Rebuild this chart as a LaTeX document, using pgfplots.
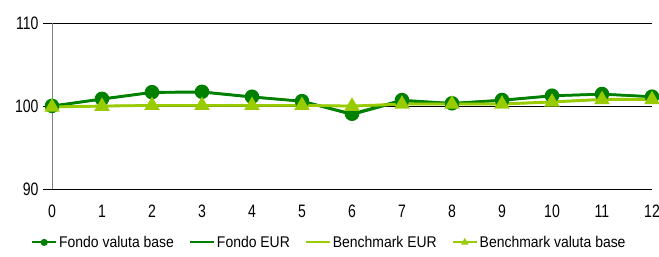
\documentclass[border=0pt]{standalone}
\usepackage{fontspec}
\setmainfont{Liberation Sans}[FakeStretch=0.9]
\newfontfamily\tickfont{Liberation Sans}[FakeStretch=0.78]
\usepackage{pgfplots}
\pgfplotsset{compat=1.18}
\definecolor{dkgreen}{RGB}{0,128,0}
\definecolor{ltgreen}{RGB}{153,204,0}
\begin{document}
\begin{tikzpicture}
\begin{axis}[
 scale only axis, width=600pt, height=166pt,
 xmin=0, xmax=12, ymin=90, ymax=110,
 xtick={0,...,12}, ytick={90,100,110},
 axis x line=bottom, axis y line=left,
 axis line style={-},
 x axis line style={black, line width=0.8pt},
 y axis line style={gray, line width=0.6pt},
 ymajorgrids, major grid style={black, line width=0.8pt},
 tick align=outside, major tick length=9pt,
 xtick style={draw=none}, ytick style={black, line width=0.8pt},
 /pgf/number format/assume math mode=true,
 ticklabel style={font=\tickfont\fontsize{18}{21}\selectfont},
 yticklabel style={xshift=-1pt},
 xticklabel style={yshift=-3pt},
 clip=false,
 legend columns=4,
 legend style={draw=none, fill=none, at={(-0.04,-0.32)}, anchor=west,
   font=\fontsize{15.5}{18}\selectfont,
   /tikz/every even column/.append style={column sep=13pt}},
 legend cell align=left,
 legend image code/.code={\draw[mark repeat=2,mark phase=2,#1,mark size=2.5pt,line width=2pt] plot coordinates {(0pt,0pt) (12pt,0pt) (24pt,0pt)};},
]
\addplot[dkgreen, line width=2.5pt, mark=*, mark size=6pt] coordinates {
 (0,100.05) (1,100.9) (2,101.7) (3,101.75) (4,101.15) (5,100.62) (6,99.1)
 (7,100.75) (8,100.36) (9,100.76) (10,101.28) (11,101.48) (12,101.16)};
\addlegendentry{Fondo valuta base}
\addplot[dkgreen, line width=2.5pt] coordinates {
 (0,100.0) (1,100.85) (2,101.65) (3,101.7) (4,101.1) (5,100.6) (6,99.0)
 (7,100.65) (8,100.35) (9,100.7) (10,101.25) (11,101.45) (12,101.15)};
\addlegendentry{Fondo EUR}
\addplot[ltgreen, line width=2.5pt] coordinates {
 (0,99.95) (1,100.05) (2,100.12) (3,100.12) (4,100.12) (5,100.12) (6,100.05)
 (7,100.28) (8,100.28) (9,100.3) (10,100.55) (11,100.85) (12,100.85)};
\addlegendentry{Benchmark EUR}
\addplot[ltgreen, line width=2.5pt, mark=triangle*, mark size=6.5pt] coordinates {
 (0,99.9) (1,100.0) (2,100.1) (3,100.1) (4,100.1) (5,100.1) (6,100.0)
 (7,100.25) (8,100.25) (9,100.25) (10,100.5) (11,100.8) (12,100.8)};
\addlegendentry{Benchmark valuta base}
\end{axis}
\pgfresetboundingbox
\path[use as bounding box] (-52pt,-67.7pt) rectangle (607pt,189.3pt);
\end{tikzpicture}
\end{document}
